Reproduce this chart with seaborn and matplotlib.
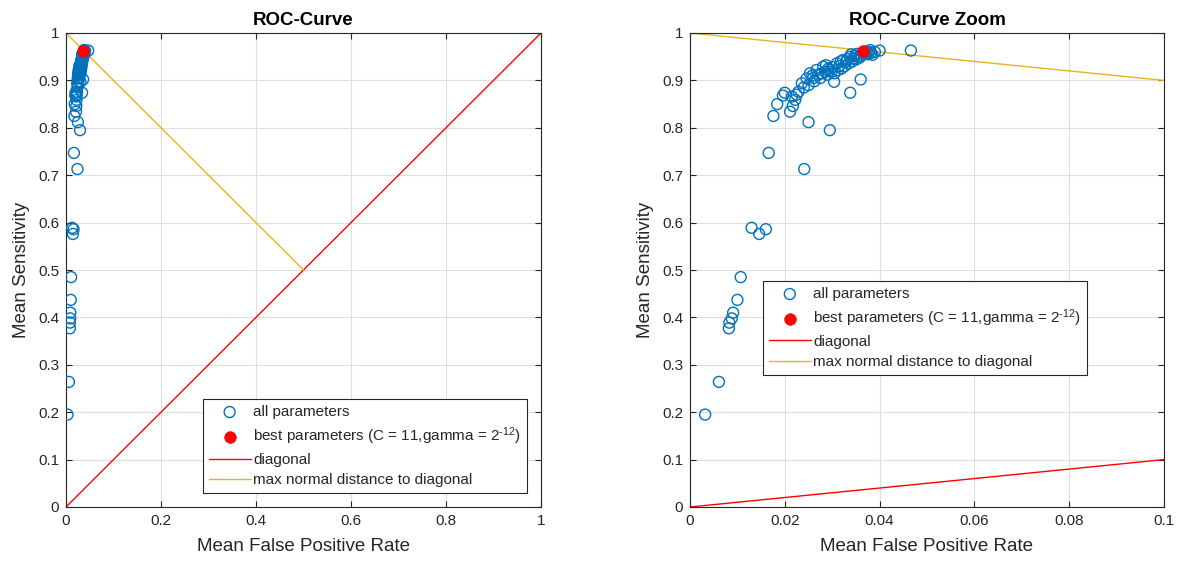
import numpy as np
import pandas as pd
import matplotlib
matplotlib.use("Agg")
import matplotlib.pyplot as plt
import seaborn as sns

# Mean false positive rate / mean sensitivity for every parameter combination
fpr_all = [0.0032, 0.0061, 0.0082, 0.0083, 0.0088, 0.0091, 0.0100, 0.0107,
           0.0130, 0.0146, 0.0160, 0.0166, 0.0241, 0.0250, 0.0295, 0.0176,
           0.0184, 0.0196, 0.0200, 0.0211, 0.0217, 0.0222, 0.0229, 0.0236,
           0.0240, 0.0246, 0.0253, 0.0260, 0.0267, 0.0270, 0.0281, 0.0285,
           0.0287, 0.0295, 0.0300, 0.0304, 0.0305, 0.0310, 0.0315, 0.0320,
           0.0323, 0.0330, 0.0338, 0.0338, 0.0345, 0.0352, 0.0355, 0.0360,
           0.0365, 0.0373, 0.0375, 0.0380, 0.0385, 0.0390, 0.0400, 0.0466,
           0.0215, 0.0225, 0.0250, 0.0262, 0.0275, 0.0290, 0.0298, 0.0312,
           0.0326, 0.0335, 0.0342, 0.0350, 0.0358, 0.0362, 0.0370, 0.0378,
           0.0382, 0.0348, 0.0332, 0.0318, 0.0292, 0.0278, 0.0258, 0.0340]
sens_all = [0.195, 0.264, 0.377, 0.389, 0.398, 0.410, 0.437, 0.485,
            0.589, 0.576, 0.586, 0.747, 0.713, 0.812, 0.795, 0.825,
            0.850, 0.868, 0.874, 0.834, 0.846, 0.859, 0.876, 0.894,
            0.885, 0.904, 0.915, 0.905, 0.922, 0.912, 0.929, 0.918,
            0.932, 0.922, 0.928, 0.897, 0.915, 0.936, 0.930, 0.925,
            0.943, 0.940, 0.874, 0.950, 0.946, 0.956, 0.950, 0.902,
            0.958, 0.961, 0.955, 0.964, 0.954, 0.960, 0.963, 0.963,
            0.866, 0.870, 0.890, 0.898, 0.905, 0.912, 0.918, 0.922,
            0.930, 0.936, 0.940, 0.944, 0.948, 0.953, 0.957, 0.960,
            0.958, 0.952, 0.945, 0.940, 0.925, 0.915, 0.910, 0.955]

# Best parameter combination
best_fpr = [0.0366]
best_sens = [0.963]

# Reference lines
diag_x = [0.0, 1.0]
diag_y = [0.0, 1.0]
dist_x = [0.0, 0.5]
dist_y = [1.0, 0.5]

y_ticks = [0, 0.1, 0.2, 0.3, 0.4, 0.5, 0.6, 0.7, 0.8, 0.9, 1]
y_tick_labels = ["0", "0.1", "0.2", "0.3", "0.4", "0.5", "0.6", "0.7", "0.8", "0.9", "1"]
x_ticks_full = [0, 0.2, 0.4, 0.6, 0.8, 1]
x_tick_labels_full = ["0", "0.2", "0.4", "0.6", "0.8", "1"]
x_ticks_zoom = [0, 0.02, 0.04, 0.06, 0.08, 0.1]
x_tick_labels_zoom = ["0", "0.02", "0.04", "0.06", "0.08", "0.1"]

titles = ["ROC-Curve", "ROC-Curve Zoom"]
legend_labels = ["all parameters",
                 r"best parameters (C = 11,gamma = 2$^{\text{-}12}$)",
                 "diagonal",
                 "max normal distance to diagonal"]

sns.set_theme(style="white")
plt.rcParams["font.family"] = ["Liberation Sans", "DejaVu Sans"]
plt.rcParams["mathtext.fontset"] = "custom"
plt.rcParams["mathtext.rm"] = "Liberation Sans"
plt.rcParams["mathtext.it"] = "Liberation Sans:italic"
plt.rcParams["mathtext.default"] = "regular"

BLUE = "#0072BD"
RED = "#FF0000"
YELLOW = "#EDB120"
AX_COLOR = "#262626"

df_all = pd.DataFrame({"fpr": fpr_all, "sens": sens_all})
df_best = pd.DataFrame({"fpr": best_fpr, "sens": best_sens})
df_diag = pd.DataFrame({"x": diag_x, "y": diag_y})
df_dist = pd.DataFrame({"x": dist_x, "y": dist_y})

fig = plt.figure(figsize=(11.79, 5.65), dpi=100)
ax1 = fig.add_axes([66 / 1179, 1 - 507 / 565, 475 / 1179, 474 / 565])
ax2 = fig.add_axes([690 / 1179, 1 - 507 / 565, 474 / 1179, 474 / 565])

panels = [
    (ax1, (0, 1), x_ticks_full, x_tick_labels_full, (0.288, 0.030)),
    (ax2, (0, 0.1), x_ticks_zoom, x_tick_labels_zoom, (0.154, 0.279)),
]

for (ax, xlim, xt, xtl, leg_pos), title in zip(panels, titles):
    sns.scatterplot(data=df_all, x="fpr", y="sens", ax=ax, marker="o",
                    s=62, facecolor="none", edgecolor=BLUE, linewidth=1.0,
                    label=legend_labels[0], zorder=3)
    sns.scatterplot(data=df_best, x="fpr", y="sens", ax=ax, marker="o",
                    s=70, color=RED, edgecolor=RED, linewidth=0.5,
                    label=legend_labels[1], zorder=4)
    sns.lineplot(data=df_diag, x="x", y="y", ax=ax, color=RED, linewidth=1.0,
                 sort=False, estimator=None, label=legend_labels[2], zorder=2)
    sns.lineplot(data=df_dist, x="x", y="y", ax=ax, color=YELLOW, linewidth=1.0,
                 sort=False, estimator=None, label=legend_labels[3], zorder=2)

    ax.set_xlim(*xlim)
    ax.set_ylim(0, 1)
    ax.set_xticks(xt)
    ax.set_xticklabels(xtl)
    ax.set_yticks(y_ticks)
    ax.set_yticklabels(y_tick_labels)
    ax.grid(True, color="#DFDFDF", linewidth=0.8)
    ax.set_axisbelow(True)
    for sp in ax.spines.values():
        sp.set_visible(True)
        sp.set_color(AX_COLOR)
        sp.set_linewidth(0.8)
    ax.tick_params(axis="both", direction="in", length=4, width=0.8,
                   colors=AX_COLOR, labelcolor=AX_COLOR, labelsize=11,
                   top=True, right=True, bottom=True, left=True, pad=5)
    ax.set_xlabel("Mean False Positive Rate", fontsize=13.5, color=AX_COLOR, labelpad=7)
    ax.set_ylabel("Mean Sensitivity", fontsize=13.5, color=AX_COLOR, labelpad=6)
    ax.set_title(title, fontsize=13.5, fontweight="bold", color="black", pad=6)

    handles, labels = ax.get_legend_handles_labels()
    leg = ax.legend(handles, labels, loc="lower left", bbox_to_anchor=leg_pos,
                    fontsize=11, frameon=True, fancybox=False,
                    edgecolor=AX_COLOR, framealpha=1, handlelength=2.75,
                    handletextpad=0.15, borderpad=0.38, labelspacing=0.4,
                    borderaxespad=0)
    leg.get_frame().set_linewidth(0.8)

fig.savefig("out.png", dpi=100, facecolor="white")
